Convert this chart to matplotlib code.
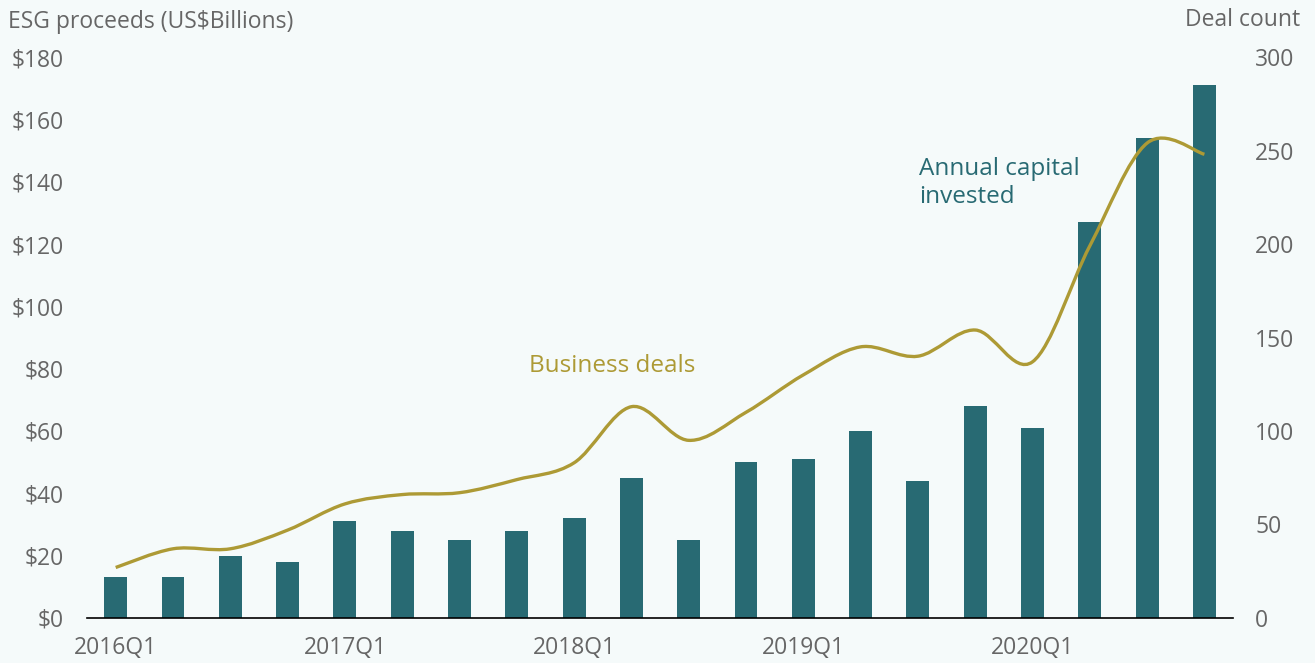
import matplotlib
matplotlib.use("Agg")
import matplotlib.pyplot as plt
from matplotlib.path import Path
from matplotlib.patches import PathPatch
import numpy as np

quarters = ["2016Q1", "2016Q2", "2016Q3", "2016Q4",
            "2017Q1", "2017Q2", "2017Q3", "2017Q4",
            "2018Q1", "2018Q2", "2018Q3", "2018Q4",
            "2019Q1", "2019Q2", "2019Q3", "2019Q4",
            "2020Q1", "2020Q2", "2020Q3", "2020Q4"]
capital = [13, 13, 20, 18, 31, 28, 25, 28, 32, 45,
           25, 50, 51, 60, 44, 68, 61, 127, 154, 171]
deals = [27, 37, 37, 47, 61, 66, 67, 74, 83, 113,
         95, 110, 130, 145, 140, 154, 137, 199, 254, 248]
left_ticks = [0, 20, 40, 60, 80, 100, 120, 140, 160, 180]
right_ticks = [0, 50, 100, 150, 200, 250, 300]

BG = "#f5fafa"
TEAL = "#286a73"
GOLD = "#ad9a35"
GREY = "#666666"

plt.rcParams['font.family'] = ['Open Sans', 'DejaVu Sans']

fig = plt.figure(figsize=(13.15, 6.63), dpi=100, facecolor=BG)
ax = fig.add_axes([0.0662, 0.0679, 0.8715, 0.8461])
ax.set_facecolor(BG)
ax2 = ax.twinx()

x = np.arange(len(quarters))
ax.bar(x, capital, width=0.4, color=TEAL, zorder=2)
ax.set_xlim(-0.5, len(quarters) - 0.5)
ax.set_ylim(0, 180)
ax.set_yticks(left_ticks)
ax.set_yticklabels(["$%d" % v for v in left_ticks])
ax.set_xticks(x[::4])
ax.set_xticklabels(quarters[::4])

# smooth line through the deal counts (catmull-rom as bezier segments)
pts = np.column_stack([x, deals]).astype(float)
verts = [pts[0]]
codes = [Path.MOVETO]
n = len(pts)
for i in range(n - 1):
    p0 = pts[max(i - 1, 0)]
    p1 = pts[i]
    p2 = pts[i + 1]
    p3 = pts[min(i + 2, n - 1)]
    verts += [p1 + (p2 - p0) / 6, p2 - (p3 - p1) / 6, p2]
    codes += [Path.CURVE4] * 3
ax2.add_patch(PathPatch(Path(verts, codes), fill=False, edgecolor=GOLD,
                        lw=2.4, capstyle='butt', zorder=3))
ax2.set_ylim(0, 300)
ax2.set_yticks(right_ticks)

for a in (ax, ax2):
    for s in a.spines.values():
        s.set_visible(False)
ax.spines['bottom'].set_visible(True)
ax.spines['bottom'].set_color('black')
ax.spines['bottom'].set_linewidth(1.2)

ax.tick_params(axis='y', length=0, pad=17, labelsize=16.5, labelcolor=GREY)
ax.tick_params(axis='x', length=0, pad=13, labelsize=16.5, labelcolor=GREY)
ax2.tick_params(axis='y', length=0, pad=16, labelsize=16.5, labelcolor=GREY)

fig.text(8 / 1315, 1 - 22 / 663, "ESG proceeds (US$Billions)", fontsize=16.5,
         color=GREY, ha='left', va='center')
fig.text(1300 / 1315, 1 - 20 / 663, "Deal count", fontsize=16.5,
         color=GREY, ha='right', va='center')

ax2.text(7.22, 134.5, "Business deals", fontsize=17.5, color=GOLD,
         ha='left', va='center')
ax2.text(14.02, 232.5, "Annual capital\ninvested", fontsize=17.5, color=TEAL,
         ha='left', va='center', linespacing=1.25)

fig.savefig("out.png", dpi=100, facecolor=BG)
